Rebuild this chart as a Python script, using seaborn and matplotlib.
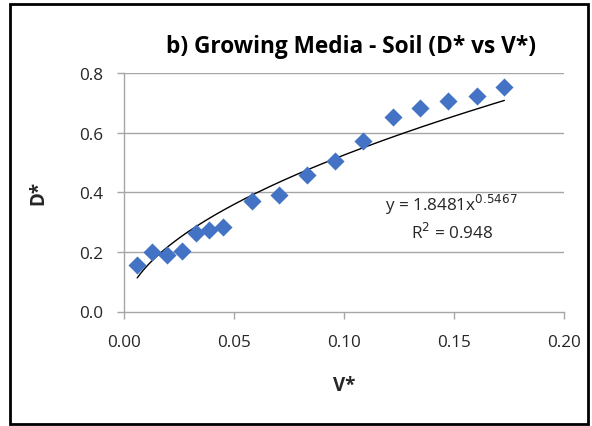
import numpy as np
import pandas as pd
import matplotlib
matplotlib.use("Agg")
import matplotlib.pyplot as plt
import seaborn as sns
from matplotlib.patches import Rectangle

# Data
v_star = [0.006, 0.0129, 0.0194, 0.0262, 0.0327, 0.0388, 0.0451, 0.058, 0.0706,
          0.083, 0.0959, 0.1088, 0.1221, 0.1345, 0.1474, 0.1603, 0.1729]
d_star = [0.157, 0.199, 0.188, 0.202, 0.263, 0.274, 0.284, 0.371, 0.390,
          0.458, 0.504, 0.571, 0.652, 0.684, 0.707, 0.724, 0.754]
coef_a = 1.8481
coef_b = 0.5467
r_squared = 0.948
x_ticks = [0.00, 0.05, 0.10, 0.15, 0.20]
y_ticks = [0.0, 0.2, 0.4, 0.6, 0.8]

sns.set_theme(style="white")
plt.rcParams['font.family'] = ['Open Sans', 'DejaVu Sans']

df = pd.DataFrame({"V*": v_star, "D*": d_star})
xs = np.linspace(min(v_star), max(v_star), 200)
trend = pd.DataFrame({"x": xs, "y": coef_a * xs ** coef_b})

W, H = 592, 427
fig = plt.figure(figsize=(W / 100, H / 100), dpi=100)
ax = fig.add_axes([124 / W, 1 - 312.5 / H, (564 - 124) / W, (312.5 - 74) / H])

for yt in y_ticks[1:]:
    ax.axhline(yt, color="#a6a6a6", lw=1.0, zorder=0)

sns.lineplot(data=trend, x="x", y="y", ax=ax, color="black", lw=1.0, zorder=2)
sns.scatterplot(data=df, x="V*", y="D*", ax=ax, marker="D", s=85,
                color="#4472C4", edgecolor="#4472C4", linewidth=0, zorder=3)

ax.set_xlim(0, 0.20)
ax.set_ylim(0, 0.8)
ax.set_xticks(x_ticks)
ax.set_yticks(y_ticks)
ax.set_xticklabels([f"{t:.2f}" for t in x_ticks])
ax.set_yticklabels([f"{t:.1f}" for t in y_ticks])
ax.tick_params(axis="both", which="both", direction="out", length=5, width=1,
               color="#a6a6a6", labelsize=12.3, labelcolor="#262626",
               bottom=True, left=True)
ax.tick_params(axis="x", pad=11)
ax.tick_params(axis="y", pad=10)
for side in ["top", "right"]:
    ax.spines[side].set_visible(False)
for side in ["left", "bottom"]:
    ax.spines[side].set_color("#a6a6a6")
    ax.spines[side].set_linewidth(1.0)

ax.set_xlabel("V*", fontsize=13.5, fontweight="bold", labelpad=18)
ax.set_ylabel("D*", fontsize=13.5, fontweight="bold", labelpad=22)

ax.text(0.149, 0.36, f"y = {coef_a}x$^{{{coef_b}}}$", ha="center", va="center",
        fontsize=12.3, color="#262626")
ax.text(0.149, 0.267, f"R$^{{2}}$ = {r_squared}", ha="center", va="center",
        fontsize=12.3, color="#262626")

fig.text(351 / W, 1 - 47 / H, "b) Growing Media - Soil (D* vs V*)",
         ha="center", va="center", fontsize=16.3, fontweight="bold", color="black")

fig.patches.append(Rectangle((10 / W, 1 - 425 / H), (588 - 10) / W, (425 - 5) / H,
                             transform=fig.transFigure, fill=False,
                             edgecolor="black", lw=2))

fig.savefig("out.png", dpi=100)
